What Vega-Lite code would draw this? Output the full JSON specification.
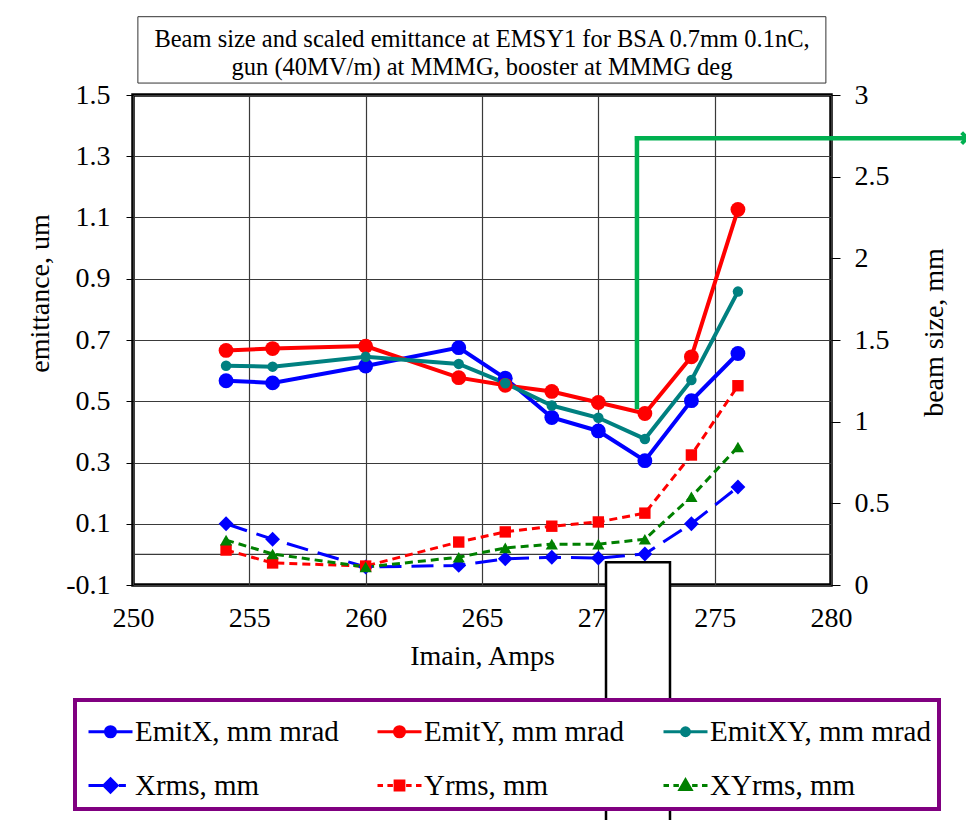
{
  "$schema": "https://vega.github.io/schema/vega-lite/v6.json",
  "width": 698,
  "height": 490,
  "autosize": {"type": "none"},
  "padding": {"left": 133, "top": 95, "right": 135, "bottom": 235},
  "background": "white",
  "config": {
    "font": "Liberation Serif",
    "view": {"stroke": "black", "strokeWidth": 3.5},
    "axis": {"labelColor": "black", "titleColor": "black", "titleFontWeight": "normal", "labelFontSize": 28, "titleFontSize": 28, "gridColor": "#3a3a3a", "gridWidth": 1.2, "gridOpacity": 1}
  },
  "title": {
    "text": ["Beam size and scaled emittance at EMSY1 for BSA 0.7mm 0.1nC,", "gun (40MV/m) at MMMG, booster at MMMG deg"],
    "fontSize": 24.5, "fontWeight": "normal", "color": "black", "anchor": "middle", "frame": "group", "offset": -64, "lineHeight": 28
  },
  "datasets": {
    "emit": [
      {"I": 254, "s": "EmitX, mm mrad", "v": 0.567}, {"I": 256, "s": "EmitX, mm mrad", "v": 0.56}, {"I": 260, "s": "EmitX, mm mrad", "v": 0.615}, {"I": 264, "s": "EmitX, mm mrad", "v": 0.675}, {"I": 266, "s": "EmitX, mm mrad", "v": 0.575}, {"I": 268, "s": "EmitX, mm mrad", "v": 0.447}, {"I": 270, "s": "EmitX, mm mrad", "v": 0.403}, {"I": 272, "s": "EmitX, mm mrad", "v": 0.306}, {"I": 274, "s": "EmitX, mm mrad", "v": 0.502}, {"I": 276, "s": "EmitX, mm mrad", "v": 0.656},
      {"I": 254, "s": "EmitY, mm mrad", "v": 0.666}, {"I": 256, "s": "EmitY, mm mrad", "v": 0.672}, {"I": 260, "s": "EmitY, mm mrad", "v": 0.68}, {"I": 264, "s": "EmitY, mm mrad", "v": 0.577}, {"I": 266, "s": "EmitY, mm mrad", "v": 0.552}, {"I": 268, "s": "EmitY, mm mrad", "v": 0.532}, {"I": 270, "s": "EmitY, mm mrad", "v": 0.496}, {"I": 272, "s": "EmitY, mm mrad", "v": 0.46}, {"I": 274, "s": "EmitY, mm mrad", "v": 0.645}, {"I": 276, "s": "EmitY, mm mrad", "v": 1.126},
      {"I": 254, "s": "EmitXY, mm mrad", "v": 0.616}, {"I": 256, "s": "EmitXY, mm mrad", "v": 0.613}, {"I": 260, "s": "EmitXY, mm mrad", "v": 0.645}, {"I": 264, "s": "EmitXY, mm mrad", "v": 0.622}, {"I": 266, "s": "EmitXY, mm mrad", "v": 0.559}, {"I": 268, "s": "EmitXY, mm mrad", "v": 0.486}, {"I": 270, "s": "EmitXY, mm mrad", "v": 0.446}, {"I": 272, "s": "EmitXY, mm mrad", "v": 0.377}, {"I": 274, "s": "EmitXY, mm mrad", "v": 0.569}, {"I": 276, "s": "EmitXY, mm mrad", "v": 0.858}
    ],
    "rms": [
      {"I": 254, "s": "Xrms, mm", "v": 0.375}, {"I": 256, "s": "Xrms, mm", "v": 0.28}, {"I": 260, "s": "Xrms, mm", "v": 0.11}, {"I": 264, "s": "Xrms, mm", "v": 0.12}, {"I": 266, "s": "Xrms, mm", "v": 0.16}, {"I": 268, "s": "Xrms, mm", "v": 0.17}, {"I": 270, "s": "Xrms, mm", "v": 0.165}, {"I": 272, "s": "Xrms, mm", "v": 0.19}, {"I": 274, "s": "Xrms, mm", "v": 0.375}, {"I": 276, "s": "Xrms, mm", "v": 0.6},
      {"I": 254, "s": "Yrms, mm", "v": 0.214}, {"I": 256, "s": "Yrms, mm", "v": 0.135}, {"I": 260, "s": "Yrms, mm", "v": 0.116}, {"I": 264, "s": "Yrms, mm", "v": 0.263}, {"I": 266, "s": "Yrms, mm", "v": 0.325}, {"I": 268, "s": "Yrms, mm", "v": 0.36}, {"I": 270, "s": "Yrms, mm", "v": 0.386}, {"I": 272, "s": "Yrms, mm", "v": 0.44}, {"I": 274, "s": "Yrms, mm", "v": 0.796}, {"I": 276, "s": "Yrms, mm", "v": 1.22},
      {"I": 254, "s": "XYrms, mm", "v": 0.275}, {"I": 256, "s": "XYrms, mm", "v": 0.19}, {"I": 260, "s": "XYrms, mm", "v": 0.11}, {"I": 264, "s": "XYrms, mm", "v": 0.17}, {"I": 266, "s": "XYrms, mm", "v": 0.227}, {"I": 268, "s": "XYrms, mm", "v": 0.25}, {"I": 270, "s": "XYrms, mm", "v": 0.25}, {"I": 272, "s": "XYrms, mm", "v": 0.28}, {"I": 274, "s": "XYrms, mm", "v": 0.54}, {"I": 276, "s": "XYrms, mm", "v": 0.845}
    ],
    "one": [{}]
  },
  "resolve": {"scale": {"y": "independent"}},
  "layer": [
    {
      "layer": [
        {
          "data": {"name": "one"},
          "mark": {"type": "rect", "fill": "white", "stroke": "#333333", "strokeWidth": 1, "clip": false},
          "encoding": {
            "x": {"datum": 250.21, "type": "quantitative", "scale": {"domain": [250, 280], "nice": false, "zero": false},
              "axis": {"values": [250, 255, 260, 265, 270, 275, 280], "title": "Imain, Amps", "grid": true, "ticks": false, "domain": false, "labelPadding": 19, "titlePadding": 10, "labelFlush": false}},
            "x2": {"datum": 279.78},
            "y": {"datum": 1.7557, "type": "quantitative", "scale": {"domain": [-0.1, 1.5], "nice": false, "zero": false},
              "axis": {"values": [-0.1, 0.1, 0.3, 0.5, 0.7, 0.9, 1.1, 1.3, 1.5], "labelExpr": "datum.value < 0 ? '-' + format(-datum.value, '.1f') : format(datum.value, '.1f')", "title": "emittance, um", "grid": true, "tickSize": 7, "tickColor": "black", "domain": false, "labelPadding": 16, "titleAngle": 270, "titleBaseline": "alphabetic", "titleAlign": "center", "titleX": -85, "titleY": 198}},
            "y2": {"datum": 1.539}
          }
        },
        {
          "data": {"name": "one"},
          "mark": {"type": "rule", "stroke": "#3a3a3a", "strokeWidth": 1.2},
          "encoding": {"y": {"datum": 0, "type": "quantitative", "scale": {"domain": [-0.1, 1.5], "nice": false, "zero": false}}}
        },
        {
          "data": {"name": "emit"},
          "mark": {"type": "line", "strokeWidth": 4},
          "encoding": {
            "x": {"field": "I", "type": "quantitative", "scale": {"domain": [250, 280], "nice": false, "zero": false}},
            "y": {"field": "v", "type": "quantitative", "scale": {"domain": [-0.1, 1.5], "nice": false, "zero": false}},
            "color": {"field": "s", "type": "nominal",
              "scale": {"domain": ["EmitX, mm mrad", "EmitY, mm mrad", "EmitXY, mm mrad", "Xrms, mm", "Yrms, mm", "XYrms, mm"], "range": ["#0000ff", "#ff0000", "#008080", "#0000ff", "#ff0000", "#008000"]},
              "legend": {
                "title": null, "orient": "none", "legendX": -58, "legendY": 605, "direction": "horizontal", "columns": 3,
                "strokeColor": "#800080", "fillColor": "white", "padding": 8, "symbolOffset": 4,
                "labelFontSize": 29, "labelColor": "black", "labelLimit": 400, "labelOffset": 1,
                "symbolSize": 1936, "symbolStrokeWidth": 3, "columnPadding": 32, "rowPadding": 15,
                "encode": {
                  "legend": {"update": {"strokeWidth": {"value": 4}}},
                  "symbols": {"update": {
                  "shape": {"signal": "({'EmitX, mm mrad': 'M-1,0H1M-0.23,0A0.23,0.23,0,1,0,0.23,0A0.23,0.23,0,1,0,-0.23,0Z', 'EmitY, mm mrad': 'M-1,0H1M-0.23,0A0.23,0.23,0,1,0,0.23,0A0.23,0.23,0,1,0,-0.23,0Z', 'EmitXY, mm mrad': 'M-1,0H1M-0.18,0A0.18,0.18,0,1,0,0.18,0A0.18,0.18,0,1,0,-0.18,0Z', 'Xrms, mm': 'M-1,0H-0.3M0.38,0H0.7M0,-0.3L0.3,0L0,0.3L-0.3,0Z', 'Yrms, mm': 'M-1,0H-0.75M-0.55,0H-0.3M0.3,0H0.55M0.75,0H1M-0.2,-0.2H0.2V0.2H-0.2Z', 'XYrms, mm': 'M-1,0H-0.75M-0.55,0H-0.3M0.3,0H0.55M0.75,0H1M0,-0.25L0.25,0.18L-0.25,0.18Z'})[datum.value]"},
                  "fill": {"scale": "color", "field": "value"},
                  "stroke": {"scale": "color", "field": "value"},
                  "strokeWidth": {"value": 3},
                  "opacity": {"value": 1},
                  "strokeDash": {"value": []}
                }}}
              }
            }
          }
        },
        {
          "data": {"name": "emit"},
          "transform": [{"filter": "datum.s !== 'EmitXY, mm mrad'"}],
          "mark": {"type": "point", "shape": "circle", "filled": true, "opacity": 1, "size": 220},
          "encoding": {
            "x": {"field": "I", "type": "quantitative", "scale": {"domain": [250, 280], "nice": false, "zero": false}},
            "y": {"field": "v", "type": "quantitative", "scale": {"domain": [-0.1, 1.5], "nice": false, "zero": false}},
            "color": {"field": "s", "type": "nominal"}
          }
        },
        {
          "data": {"name": "emit"},
          "transform": [{"filter": "datum.s === 'EmitXY, mm mrad'"}],
          "mark": {"type": "point", "shape": "circle", "filled": true, "opacity": 1, "size": 110},
          "encoding": {
            "x": {"field": "I", "type": "quantitative", "scale": {"domain": [250, 280], "nice": false, "zero": false}},
            "y": {"field": "v", "type": "quantitative", "scale": {"domain": [-0.1, 1.5], "nice": false, "zero": false}},
            "color": {"field": "s", "type": "nominal"}
          }
        },
        {
          "data": {"name": "one"},
          "mark": {"type": "rule", "stroke": "#00b050", "strokeWidth": 4.5, "clip": false},
          "encoding": {
            "x": {"datum": 271.66, "type": "quantitative", "scale": {"domain": [250, 280], "nice": false, "zero": false}},
            "y": {"datum": 0.474, "type": "quantitative", "scale": {"domain": [-0.1, 1.5], "nice": false, "zero": false}},
            "y2": {"datum": 1.366}
          }
        },
        {
          "data": {"name": "one"},
          "mark": {"type": "rule", "stroke": "#00b050", "strokeWidth": 4.5, "clip": false},
          "encoding": {
            "x": {"datum": 271.57, "type": "quantitative", "scale": {"domain": [250, 280], "nice": false, "zero": false}},
            "x2": {"datum": 285.75},
            "y": {"datum": 1.359, "type": "quantitative", "scale": {"domain": [-0.1, 1.5], "nice": false, "zero": false}}
          }
        },
        {
          "data": {"name": "one"},
          "mark": {"type": "point", "shape": "M-1,-1L0,0L-1,1", "filled": false, "stroke": "#00b050", "strokeWidth": 4, "size": 120, "opacity": 1, "clip": false},
          "encoding": {
            "x": {"datum": 285.85, "type": "quantitative", "scale": {"domain": [250, 280], "nice": false, "zero": false}},
            "y": {"datum": 1.359, "type": "quantitative", "scale": {"domain": [-0.1, 1.5], "nice": false, "zero": false}}
          }
        }
      ]
    },
    {
      "layer": [
        {
          "data": {"name": "rms"},
          "mark": {"type": "line", "strokeWidth": 3},
          "encoding": {
            "x": {"field": "I", "type": "quantitative", "scale": {"domain": [250, 280], "nice": false, "zero": false}},
            "y": {"field": "v", "type": "quantitative", "scale": {"domain": [0, 3], "nice": false, "zero": false},
              "axis": {"orient": "right", "values": [0, 0.5, 1, 1.5, 2, 2.5, 3], "format": "~g", "title": "beam size, mm", "grid": false, "tickSize": 9, "tickColor": "black", "domain": false, "labelPadding": 14, "titleAngle": 270, "titleBaseline": "alphabetic", "titleAlign": "center", "titleX": 111, "titleY": 237}},
            "color": {"field": "s", "type": "nominal"},
            "strokeDash": {"field": "s", "type": "nominal", "scale": {"domain": ["Xrms, mm", "Yrms, mm", "XYrms, mm"], "range": [[22, 10], [8, 5], [8, 5]]}, "legend": null}
          }
        },
        {
          "data": {"name": "rms"},
          "transform": [{"filter": "datum.s === 'Xrms, mm'"}],
          "mark": {"type": "point", "shape": "diamond", "filled": true, "opacity": 1, "size": 220},
          "encoding": {
            "x": {"field": "I", "type": "quantitative", "scale": {"domain": [250, 280], "nice": false, "zero": false}},
            "y": {"field": "v", "type": "quantitative", "scale": {"domain": [0, 3], "nice": false, "zero": false}},
            "color": {"field": "s", "type": "nominal"}
          }
        },
        {
          "data": {"name": "rms"},
          "transform": [{"filter": "datum.s === 'Yrms, mm'"}],
          "mark": {"type": "point", "shape": "square", "filled": true, "opacity": 1, "size": 130},
          "encoding": {
            "x": {"field": "I", "type": "quantitative", "scale": {"domain": [250, 280], "nice": false, "zero": false}},
            "y": {"field": "v", "type": "quantitative", "scale": {"domain": [0, 3], "nice": false, "zero": false}},
            "color": {"field": "s", "type": "nominal"}
          }
        },
        {
          "data": {"name": "rms"},
          "transform": [{"filter": "datum.s === 'XYrms, mm'"}],
          "mark": {"type": "point", "shape": "triangle-up", "filled": true, "opacity": 1, "size": 150},
          "encoding": {
            "x": {"field": "I", "type": "quantitative", "scale": {"domain": [250, 280], "nice": false, "zero": false}},
            "y": {"field": "v", "type": "quantitative", "scale": {"domain": [0, 3], "nice": false, "zero": false}},
            "color": {"field": "s", "type": "nominal"}
          }
        },
        {
          "data": {"name": "one"},
          "mark": {"type": "rect", "fill": "white", "stroke": "black", "strokeWidth": 2.5, "clip": false},
          "encoding": {
            "x": {"datum": 270.33, "type": "quantitative", "scale": {"domain": [250, 280], "nice": false, "zero": false}},
            "x2": {"datum": 273.08},
            "y": {"datum": 0.14, "type": "quantitative", "scale": {"domain": [0, 3], "nice": false, "zero": false}},
            "y2": {"datum": -1.5}
          }
        }
      ]
    }
  ]
}
